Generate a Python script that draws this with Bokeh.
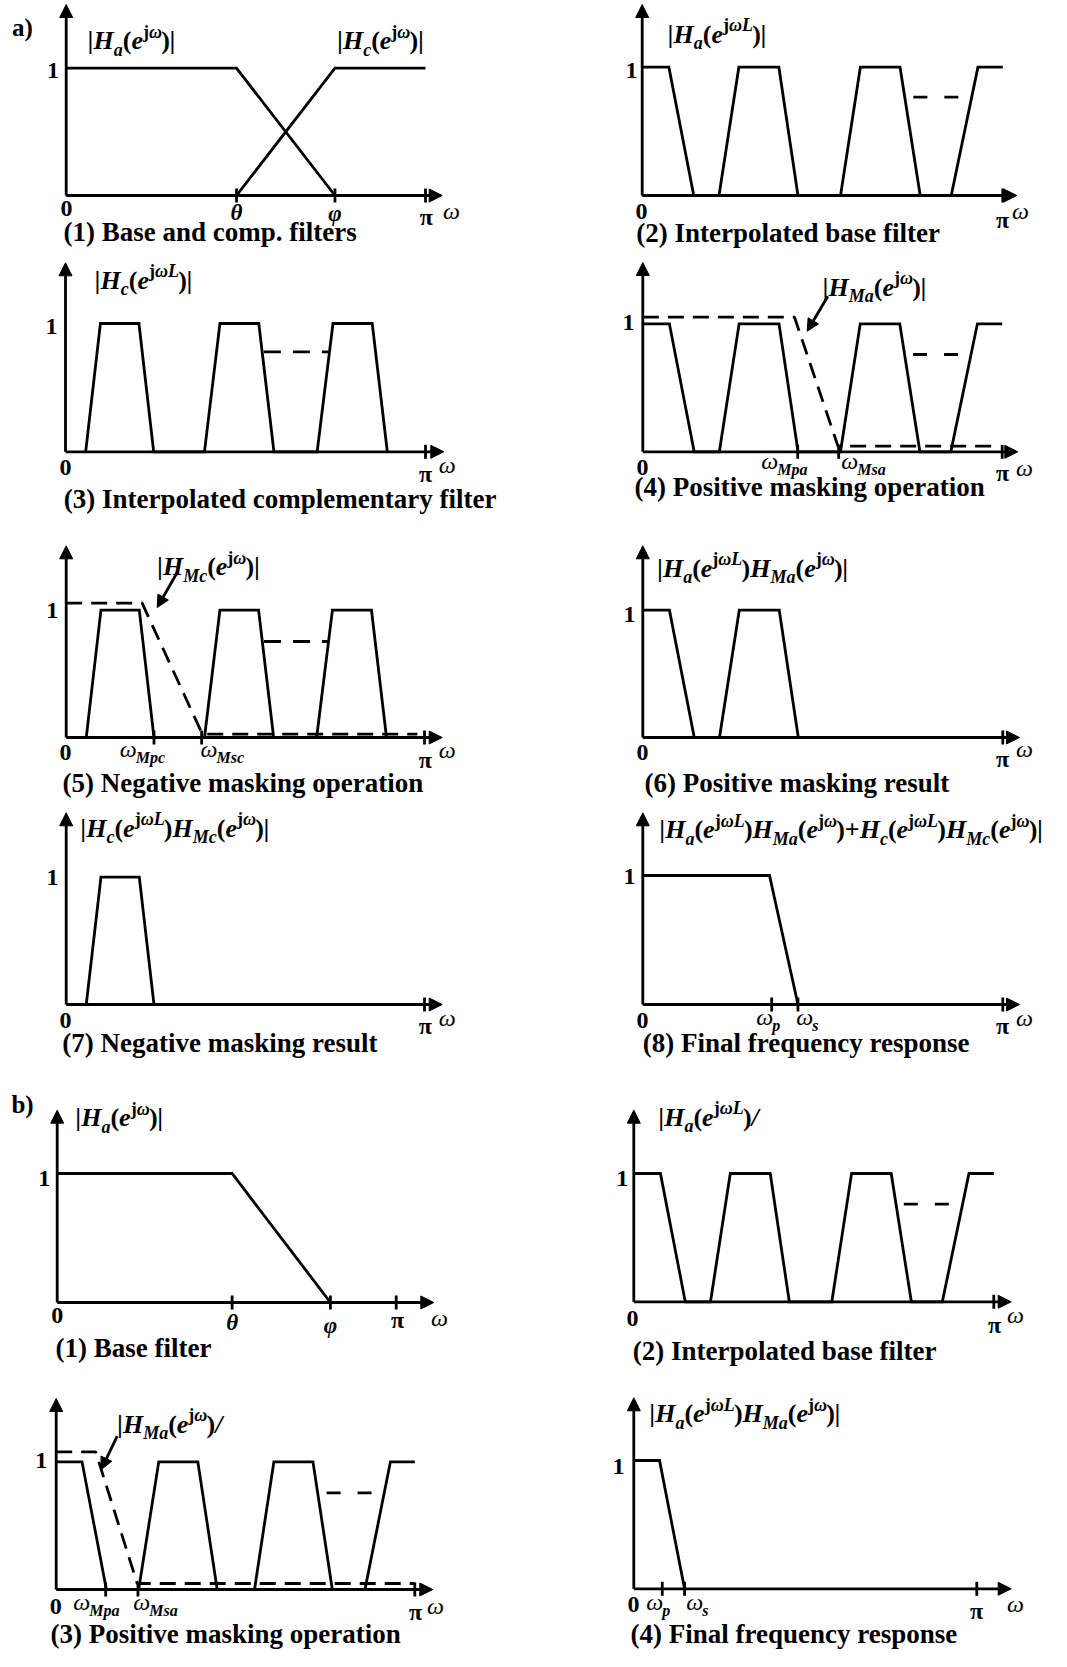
import numpy as np
from bokeh.plotting import figure
from bokeh.models import Range1d, Arrow, NormalHead, ColumnDataSource
from bokeh.core.properties import value
from bokeh.embed import file_html
from bokeh.resources import INLINE

# ================= DATA (frequency in units of pi, magnitude) =================
# a(1) base and complementary filters
a1_Ha_w = [0.0, 0.474, 0.748]
a1_Ha_m = [1.0, 1.0, 0.0]
a1_Hc_w = [0.474, 0.748, 1.0]
a1_Hc_m = [0.0, 1.0, 1.0]
a1_ticks = [0.474, 0.748, 1.0]

# interpolated base filter |Ha(e^jwL)|
HaL_w = [0.0, 0.074, 0.143, 0.213, 0.268, 0.379, 0.432, 0.550, 0.605, 0.715, 0.771, 0.857, 0.931, 1.0]
HaL_m = [1, 1, 0, 0, 1, 1, 0, 0, 1, 1, 0, 0, 1, 1]
a2_gap_w = [0.752, 0.877]
a2_gap_m = [0.766, 0.766]

# interpolated complementary filter |Hc(e^jwL)|
HcL_w = [0.056, 0.097, 0.204, 0.245, 0.386, 0.429, 0.537, 0.579, 0.699, 0.743, 0.852, 0.894]
HcL_m = [0, 1, 1, 0, 0, 1, 1, 0, 0, 1, 1, 0]
a3_gap_w = [0.551, 0.731]
a3_gap_m = [0.779, 0.779]

# a(4) positive masking filter
a4_HMa_w = [0.0, 0.422, 0.543, 0.993]
a4_HMa_m = [1.052, 1.052, 0.044, 0.044]
a4_ticks = [0.431, 0.545, 1.0]
a4_gap_w = [0.752, 0.877]
a4_gap_m = [0.760, 0.760]

# a(5) negative masking filter
a5_HMc_w = [0.0, 0.212, 0.380, 0.980]
a5_HMc_m = [1.055, 1.055, 0.026, 0.026]
a5_ticks = [0.245, 0.378, 1.0]
a5_gap_w = [0.552, 0.733]
a5_gap_m = [0.754, 0.754]

# a(6) positive masking result
a6_w = [0.0, 0.074, 0.143, 0.213, 0.268, 0.379, 0.432, 1.0]
a6_m = [1, 1, 0, 0, 1, 1, 0, 0]

# a(7) negative masking result
a7_w = [0.056, 0.097, 0.204, 0.245]
a7_m = [0, 1, 1, 0]

# a(8) final response
a8_w = [0.0, 0.352, 0.431]
a8_m = [1, 1, 0]
a8_ticks = [0.358, 0.431, 1.0]

# b(1) base filter
b1_w = [0.0, 0.516, 0.806]
b1_m = [1, 1, 0]
b1_ticks = [0.516, 0.806, 1.0]

# b(2) interpolated base filter
b2_gap_w = [0.750, 0.877]
b2_gap_m = [0.761, 0.761]

# b(3) positive masking operation
b3_w = [0.0, 0.072, 0.140, 0.230, 0.286, 0.395, 0.449, 0.553, 0.607, 0.716, 0.770, 0.861, 0.932, 1.0]
b3_m = [1, 1, 0, 0, 1, 1, 0, 0, 1, 1, 0, 0, 1, 1]
b3_HMa_w = [0.0, 0.110, 0.226, 1.0]
b3_HMa_m = [1.078, 1.078, 0.047, 0.047]
b3_ticks = [0.138, 0.228, 1.0]
b3_gap_w = [0.754, 0.881]
b3_gap_m = [0.757, 0.757]

# b(4) final response
b4_w = [0.0, 0.075, 0.148]
b4_m = [1, 1, 0]
b4_ticks = [0.083, 0.148, 1.0]

# ================= FIGURE =================
W, H = 1051, 1651
FONT = value("Liberation Serif")

p = figure(width=W, height=H, output_backend="svg", toolbar_location=None,
           x_range=Range1d(0, W), y_range=Range1d(0, H), min_border=0,
           x_axis_type=None, y_axis_type=None)
p.grid.visible = False
p.outline_line_color = None
p.background_fill_color = "white"
p.border_fill_color = "white"

xr, yr = {}, {}


class Panel:
    def __init__(self, name, X0, X1, Y0, Y1, xtip, ytip, shift):
        self.name, self.X0, self.X1, self.Y0, self.Y1 = name, X0, X1, Y0, Y1
        xk = 1.0 / (X1 - X0)
        xs = -X0 * xk
        xr[name] = Range1d(xs, xs + W * xk)
        yk = 1.0 / (Y0 - Y1)
        ys = -(H - (Y0 - shift)) * yk
        yr[name] = Range1d(ys, ys + H * yk)
        self.xtip = (xtip - X0) / (X1 - X0)
        self.ytip = (Y0 - ytip) / (Y0 - Y1)

    def d(self, rx, ry):
        return (rx - self.X0) / (self.X1 - self.X0), (self.Y0 - ry) / (self.Y0 - self.Y1)

    def rx(self, xd):
        return self.X0 + xd * (self.X1 - self.X0)


P = {
    "a1": Panel("a1", 65.7, 425.0, 195.0, 67.7, 441.7, 4.0, 0),
    "a2": Panel("a2", 641.7, 1002.3, 195.0, 66.7, 1016.3, 4.0, 0),
    "a3": Panel("a3", 65.0, 425.0, 452.3, 324.0, 443.3, 263.3, 1),
    "a4": Panel("a4", 642.3, 1001.7, 452.3, 324.3, 1017.3, 263.0, 1),
    "a5": Panel("a5", 65.7, 424.0, 740.0, 612.7, 441.7, 548.3, 3),
    "a6": Panel("a6", 642.3, 1002.3, 740.0, 612.7, 1019.0, 548.3, 3),
    "a7": Panel("a7", 65.7, 424.0, 1009.0, 881.7, 441.7, 817.3, 5),
    "a8": Panel("a8", 642.3, 1002.3, 1009.0, 880.0, 1019.0, 817.3, 5),
    "b1": Panel("b1", 56.7, 395.7, 1309.0, 1180.0, 433.3, 1116.7, 7),
    "b2": Panel("b2", 633.3, 993.3, 1308.3, 1180.0, 1010.7, 1116.7, 7),
    "b3": Panel("b3", 55.7, 414.3, 1600.0, 1472.3, 432.3, 1409.0, 11),
    "b4": Panel("b4", 633.3, 976.3, 1599.3, 1471.0, 1010.7, 1408.3, 11),
}
p.extra_x_ranges = xr
p.extra_y_ranges = yr

LW = 2.8


def solid(pn, w, m):
    p.line(w, m, x_range_name=pn.name, y_range_name=pn.name, line_color="black",
           line_width=LW, line_join="miter")


def dashed(pn, w, m, dash="16 9"):
    p.line(w, m, x_range_name=pn.name, y_range_name=pn.name, line_color="black",
           line_width=LW, line_dash=dash)


def axes(pn, ticks):
    for (x1, y1) in [(pn.xtip, 0.0), (0.0, pn.ytip)]:
        p.add_layout(Arrow(end=NormalHead(size=13, fill_color="black", line_color="black", line_width=1),
                           x_start=0.0, y_start=0.0, x_end=x1, y_end=y1,
                           line_color="black", line_width=LW,
                           x_range_name=pn.name, y_range_name=pn.name))
    p.scatter(ticks, [0.0] * len(ticks), marker="dash", size=14, angle=np.pi / 2,
              line_color="black", line_width=LW, x_range_name=pn.name, y_range_name=pn.name)


def pointer(pn, r0, r1):
    x0, y0 = pn.d(*r0)
    x1, y1 = pn.d(*r1)
    p.add_layout(Arrow(end=NormalHead(size=12, fill_color="black", line_color="black", line_width=1),
                       x_start=x0, y_start=y0, x_end=x1, y_end=y1,
                       line_color="black", line_width=LW,
                       x_range_name=pn.name, y_range_name=pn.name))


# ---------------- text machinery ----------------
groups = {}
WT = {
    "bold": {'(': .333, ')': .333, '|': .22, '/': .278, '+': .57, 'j': .333, ' ': .25},
    "bold italic": {'|': .22, '/': .278, 'H': .778, 'a': .5, 'e': .444, 'L': .611, 'M': .889,
                    'c': .444, 'p': .5, 's': .389, 'j': .278, 'ω': .68, '(': .333, ')': .333, '+': .57},
    "italic": {'ω': .667},
}
MID = 0.34  # distance (em) from the alphabetic baseline up to the 'middle' anchor


def add_text(pn, rx, ry, s, style, size, align="left", xo=0.0, on_baseline=True):
    yy = ry - MID * size if on_baseline else ry
    xd, yd = pn.d(rx, yy)
    key = (pn.name, style, size, align)
    g = groups.setdefault(key, dict(x=[], y=[], text=[], xo=[]))
    g["x"].append(xd)
    g["y"].append(yd)
    g["text"].append(s)
    g["xo"].append(xo)


def parse(markup):
    out, i = [], 0
    while i < len(markup):
        c = markup[i]
        if c in "_^" and i + 1 < len(markup) and markup[i + 1] == "{":
            j = markup.index("}", i)
            lv = "sub" if c == "_" else "sup"
            for ch in markup[i + 2:j]:
                out.append((ch, lv))
            i = j + 1
        else:
            out.append((c, "main"))
            i += 1
    return out


def char_style(ch):
    return "bold" if ch in "()+j" else "bold italic"


def rich(pn, rx, ry, markup, size=26, ssize=18, drop=6, rise=12, main_style=None):
    segs = []
    for ch, lv in parse(markup):
        st = main_style if (main_style and lv == "main") else char_style(ch)
        if segs and segs[-1][1] == st and segs[-1][2] == lv:
            segs[-1][0] += ch
        else:
            segs.append([ch, st, lv])
    off = 0.0
    for text, st, lv in segs:
        fs = size if lv == "main" else ssize
        yy = ry + (drop if lv == "sub" else (-rise if lv == "sup" else 0))
        add_text(pn, rx, yy, text, st, fs, xo=off)
        off += sum(WT[st].get(c, 0.5) for c in text) * fs


def wlabel(pn, rx, ry, markup):
    rich(pn, rx, ry, markup, size=24, ssize=16, drop=5, main_style="italic")


def title(pn, rx, ry, s):
    add_text(pn, rx, ry, s, "bold", 27)


def tick_lbl(pn, rx, ry, s, style="bold", size=24):
    add_text(pn, rx, ry, s, style, size, align="center", on_baseline=False)


def common(pn, zero, one, pi, om):
    tick_lbl(pn, zero[0], zero[1], "0")
    tick_lbl(pn, one[0], one[1], "1")
    tick_lbl(pn, pi[0], pi[1], "π", size=24)
    tick_lbl(pn, om[0], om[1], "ω", style="italic", size=24)


# ---------------- a(1) ----------------
pn = P["a1"]
solid(pn, a1_Ha_w, a1_Ha_m)
solid(pn, a1_Hc_w, a1_Hc_m)
axes(pn, a1_ticks)
rich(pn, 87.3, 49.3, "|H_{a}(e^{jω})|")
rich(pn, 336.7, 49.3, "|H_{c}(e^{jω})|")
common(pn, (66, 208), (52.5, 70), (425.7, 216), (451, 210))
tick_lbl(pn, pn.rx(a1_ticks[0]), 212, "θ", style="bold italic", size=23)
tick_lbl(pn, pn.rx(a1_ticks[1]), 213, "φ", style="bold italic", size=23)
title(pn, 63, 241, "(1) Base and comp. filters")
add_text(pn, 22, 27, "a)", "bold", 25, align="center", on_baseline=False)

# ---------------- a(2) ----------------
pn = P["a2"]
solid(pn, HaL_w, HaL_m)
dashed(pn, a2_gap_w, a2_gap_m, "14 17")
axes(pn, [1.0])
rich(pn, 667.3, 42.7, "|H_{a}(e^{jωL})|")
common(pn, (641, 211), (631, 70), (1002, 219), (1020, 210.5))
title(pn, 635.7, 242, "(2) Interpolated base filter")

# ---------------- a(3) ----------------
pn = P["a3"]
solid(pn, HcL_w, HcL_m)
dashed(pn, a3_gap_w, a3_gap_m, "17 12")
axes(pn, [1.0])
rich(pn, 94.3, 290, "|H_{c}(e^{jωL})|")
common(pn, (65, 468), (51, 326.7), (425, 474), (446.7, 465))
title(pn, 63.3, 509, "(3) Interpolated complementary filter")

# ---------------- a(4) ----------------
pn = P["a4"]
solid(pn, HaL_w, HaL_m)
dashed(pn, a4_HMa_w, a4_HMa_m)
dashed(pn, a4_gap_w, a4_gap_m, "14 17")
axes(pn, a4_ticks)
rich(pn, 822.3, 296.7, "|H_{Ma}(e^{jω})|")
pointer(pn, (827.3, 296.7), (806.7, 331.7))
common(pn, (642, 468), (628, 322.5), (1002, 473), (1024, 468))
wlabel(pn, 760.7, 470, "ω_{Mpa}")
wlabel(pn, 840.7, 470, "ω_{Msa}")
title(pn, 634, 497, "(4) Positive masking operation")

# ---------------- a(5) ----------------
pn = P["a5"]
solid(pn, HcL_w, HcL_m)
dashed(pn, a5_HMc_w, a5_HMc_m)
dashed(pn, a5_gap_w, a5_gap_m, "17 12")
axes(pn, a5_ticks)
rich(pn, 156.7, 578.3, "|H_{Mc}(e^{jω})|")
pointer(pn, (176.7, 575), (156.7, 610))
common(pn, (65, 755), (51.7, 613), (424.7, 762), (446.7, 752))
wlabel(pn, 119.3, 760, "ω_{Mpc}")
wlabel(pn, 200, 760, "ω_{Msc}")
title(pn, 62, 795, "(5) Negative masking operation")

# ---------------- a(6) ----------------
pn = P["a6"]
solid(pn, a6_w, a6_m)
axes(pn, [1.0])
rich(pn, 656.7, 580, "|H_{a}(e^{jωL})H_{Ma}(e^{jω})|")
common(pn, (642, 755), (629, 616.7), (1002, 761), (1024, 751.7))
title(pn, 644, 795, "(6) Positive masking result")

# ---------------- a(7) ----------------
pn = P["a7"]
solid(pn, a7_w, a7_m)
axes(pn, [1.0])
rich(pn, 80, 841.7, "|H_{c}(e^{jωL})H_{Mc}(e^{jω})|")
common(pn, (65, 1025), (52, 881.7), (424.7, 1030.8), (446.7, 1022.5))
title(pn, 61.7, 1057, "(7) Negative masking result")

# ---------------- a(8) ----------------
pn = P["a8"]
solid(pn, a8_w, a8_m)
axes(pn, a8_ticks)
rich(pn, 659, 843.3, "|H_{a}(e^{jωL})H_{Ma}(e^{jω})+H_{c}(e^{jωL})H_{Mc}(e^{jω})|")
common(pn, (642, 1025), (629, 880.8), (1002, 1030.8), (1024, 1022.5))
wlabel(pn, 755.7, 1030, "ω_{p}")
wlabel(pn, 795.7, 1030, "ω_{s}")
title(pn, 642.3, 1057, "(8) Final frequency response")

# ---------------- b(1) ----------------
pn = P["b1"]
solid(pn, b1_w, b1_m)
axes(pn, b1_ticks)
rich(pn, 75, 1133.3, "|H_{a}(e^{jω})|")
add_text(pn, 22, 1111, "b)", "bold", 25, align="center", on_baseline=False)
common(pn, (56.7, 1321.7), (43.7, 1185), (397, 1326), (439, 1324))
tick_lbl(pn, pn.rx(b1_ticks[0]), 1329, "θ", style="bold italic", size=23)
tick_lbl(pn, pn.rx(b1_ticks[1]), 1331.7, "φ", style="bold italic", size=23)
title(pn, 55, 1364, "(1) Base filter")

# ---------------- b(2) ----------------
pn = P["b2"]
solid(pn, HaL_w, HaL_m)
dashed(pn, b2_gap_w, b2_gap_m, "14 17")
axes(pn, [1.0])
rich(pn, 658, 1132.7, "|H_{a}(e^{jωL})/")
common(pn, (632, 1325), (621.7, 1185), (994, 1331), (1015, 1321))
title(pn, 632.3, 1367, "(2) Interpolated base filter")

# ---------------- b(3) ----------------
pn = P["b3"]
solid(pn, b3_w, b3_m)
dashed(pn, b3_HMa_w, b3_HMa_m)
dashed(pn, b3_gap_w, b3_gap_m, "14 17")
axes(pn, b3_ticks)
rich(pn, 116.7, 1444, "|H_{Ma}(e^{jω})/")
pointer(pn, (116.7, 1446.7), (100.7, 1480))
common(pn, (55.3, 1616.7), (40.7, 1471), (415, 1622.5), (435, 1616.7))
wlabel(pn, 72.7, 1621, "ω_{Mpa}")
wlabel(pn, 132.7, 1621, "ω_{Msa}")
title(pn, 50, 1654, "(3) Positive masking operation")

# ---------------- b(4) ----------------
pn = P["b4"]
solid(pn, b4_w, b4_m)
axes(pn, b4_ticks)
rich(pn, 649, 1433.3, "|H_{a}(e^{jωL})H_{Ma}(e^{jω})|")
common(pn, (633, 1615), (618, 1476.5), (976, 1621), (1015, 1614))
wlabel(pn, 645.7, 1621, "ω_{p}")
wlabel(pn, 685.7, 1621, "ω_{s}")
title(pn, 630, 1654, "(4)  Final frequency response")

# ---------------- emit text ----------------
for (name, style, size, align), g in groups.items():
    src = ColumnDataSource(g)
    p.text(x="x", y="y", text="text", x_offset="xo", source=src,
           x_range_name=name, y_range_name=name,
           text_font=FONT, text_font_size=value(f"{size}px"), text_font_style=style,
           text_align=align, text_baseline="middle", text_color="black")

open("out.html", "w").write(file_html(p, INLINE))
